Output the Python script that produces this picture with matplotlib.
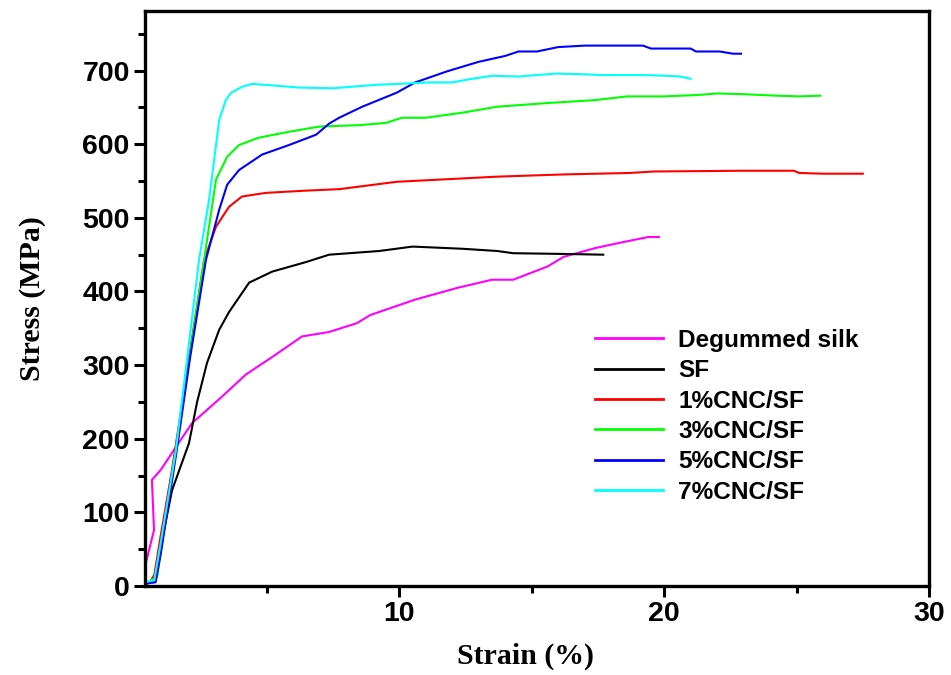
import matplotlib
matplotlib.use("Agg")
import matplotlib.pyplot as plt
from matplotlib.ticker import MultipleLocator

# Stress-strain curves (strain %, stress MPa)
labels = ["Degummed silk", "SF", "1%CNC/SF", "3%CNC/SF", "5%CNC/SF", "7%CNC/SF"]
colors = ["#ff00ff", "#000000", "#ff0000", "#00ff00", "#0000ff", "#00ffff"]

degummed_x = [0.43, 0.74, 0.66, 1.0, 1.57, 2.17, 3.3, 4.2, 5.2, 6.33, 7.35, 8.4, 8.9,
              10.6, 12.2, 13.5, 14.3, 15.6, 16.2, 17.4, 18.3, 19.4, 19.8]
degummed_y = [31, 76, 144, 158, 189, 221, 257, 287, 311, 339, 345, 357, 368,
              389, 405, 416, 416, 434, 447, 459, 466, 474, 474]

sf_x = [0.4, 0.74, 1.0, 1.42, 2.06, 2.36, 2.74, 3.2, 3.57, 4.33, 5.2, 6.48, 7.35, 7.73,
        9.24, 10.5, 12.4, 13.7, 14.3, 16.2, 17.7]
sf_y = [2, 8, 55, 130, 194, 249, 303, 348, 372, 412, 427, 440, 450, 451,
        455, 461, 458, 455, 452, 451, 450]

cnc1_x = [0.4, 0.6, 0.75, 1.0, 1.42, 2.0, 2.63, 3.08, 3.57, 4.06, 4.97, 6.48, 7.73,
          9.9, 13.7, 16.2, 18.7, 19.6, 22.9, 24.9, 25.1, 26.0, 27.5]
cnc1_y = [3, 6, 15, 70, 158, 295, 443, 488, 515, 529, 534, 537, 539,
          549, 556, 559, 561, 563, 564, 564, 561, 560, 560]

cnc3_x = [0.4, 0.85, 1.0, 1.6, 2.1, 2.63, 3.08, 3.5, 3.95, 4.7, 5.84, 6.98, 7.73, 8.5,
          9.5, 10.1, 11.0, 12.4, 13.7, 15.6, 17.4, 18.6, 20.0, 21.3, 22.0, 23.0,
          24.25, 25.1, 25.9]
cnc3_y = [3, 12, 48, 193, 315, 443, 552, 583, 599, 609, 617, 624, 625, 626,
          629, 636, 636, 643, 651, 656, 660, 665, 665, 667, 669, 668,
          666, 665, 666]

cnc5_x = [0.4, 0.8, 1.0, 1.6, 2.1, 2.7, 3.2, 3.5, 3.95, 4.82, 5.84, 6.86, 7.35, 7.73,
          8.6, 9.9, 10.6, 11.8, 13.0, 14.0, 14.5, 15.2, 16.0, 17.0, 17.6, 19.2,
          19.5, 21.0, 21.2, 22.1, 22.6, 22.9]
cnc5_y = [3, 5, 45, 185, 310, 443, 511, 545, 565, 586, 599, 613, 628, 636,
          651, 670, 684, 699, 712, 720, 726, 726, 732, 734, 734, 734,
          730, 730, 726, 726, 723, 723]

cnc7_x = [0.4, 0.75, 1.0, 1.57, 2.0, 2.44, 2.82, 3.2, 3.45, 3.65, 4.06, 4.44, 5.2,
          6.22, 7.47, 8.5, 9.24, 10.0, 11.1, 12.0, 12.6, 13.5, 14.5, 15.9, 17.0,
          17.6, 18.7, 19.2, 20.1, 20.6, 21.0]
cnc7_y = [5, 8, 60, 185, 312, 443, 525, 633, 660, 670, 678, 682, 680,
          677, 676, 679, 681, 682, 684, 684, 688, 693, 692, 696, 695,
          694, 694, 694, 693, 692, 689]

series = [(degummed_x, degummed_y), (sf_x, sf_y), (cnc1_x, cnc1_y),
          (cnc3_x, cnc3_y), (cnc5_x, cnc5_y), (cnc7_x, cnc7_y)]

fig = plt.figure(figsize=(9.51, 6.75), dpi=100)
ax = fig.add_axes([0.1525, 0.1319, 0.8244, 0.8518])

for (xs, ys), name, col in zip(series, labels, colors):
    ax.plot(xs, ys, color=col, lw=1.5, label=name)

ax.set_xlim(0.4, 30)
ax.set_ylim(0, 781)
ax.xaxis.set_major_locator(MultipleLocator(10))
ax.xaxis.set_minor_locator(MultipleLocator(5))
ax.yaxis.set_major_locator(MultipleLocator(100))
ax.yaxis.set_minor_locator(MultipleLocator(50))

for s in ax.spines.values():
    s.set_linewidth(2.4)
ax.tick_params(which="major", direction="out", length=8, width=2.2, pad=3,
               top=False, right=False)
ax.tick_params(which="minor", direction="out", length=5, width=2.2,
               top=False, right=False)
for lab in ax.get_xticklabels() + ax.get_yticklabels():
    lab.set_fontfamily("Liberation Sans")
    lab.set_fontweight("bold")
    lab.set_fontsize(20.5)

ax.set_xlabel("Strain (%)", family="Liberation Serif", weight="bold", fontsize=21.5, labelpad=11)
ax.set_ylabel("Stress (MPa)", family="Liberation Serif", weight="bold", fontsize=21.5, labelpad=26)
ax.xaxis.label.set_x(0.485)

leg = ax.legend(loc="upper left", bbox_to_anchor=(0.574, 0.447), frameon=False,
                handlelength=2.8, handletextpad=0.6, labelspacing=0.3,
                borderpad=0, borderaxespad=0,
                prop={"family": "Liberation Sans", "weight": "bold", "size": 17.6})
for line in leg.get_lines():
    line.set_linewidth(2.0)

fig.savefig("out.png", dpi=100)
